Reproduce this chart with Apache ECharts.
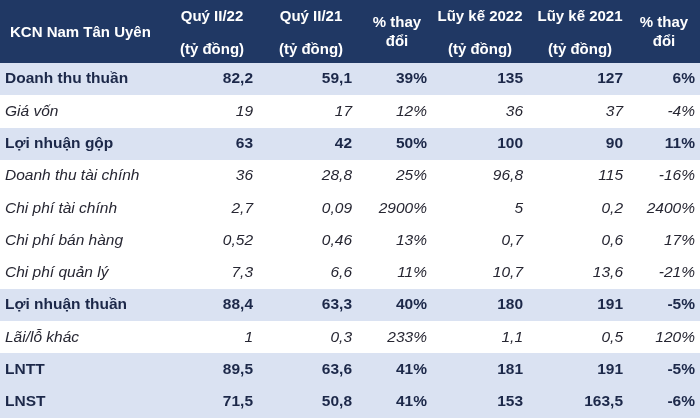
<!DOCTYPE html>
<html>
<head>
<meta charset="utf-8">
<script src="https://cdn.jsdelivr.net/npm/echarts@6/dist/echarts.min.js"></script>
<style>
  html, body { margin: 0; padding: 0; background: #fff; }
  #table { width: 700px; height: 418px; }
</style>
</head>
<body>
<div id="table"></div>
<script>
var container = document.getElementById('table');
var chart = echarts.init(container);

// table data
var rowLabels = ['Doanh thu thuần', 'Giá vốn', 'Lợi nhuận gộp', 'Doanh thu tài chính', 'Chi phí tài chính',
  'Chi phí bán hàng', 'Chi phí quản lý', 'Lợi nhuận thuần', 'Lãi/lỗ khác', 'LNTT', 'LNST'];
var boldRows = [true, false, true, false, false, false, false, true, false, true, true];
var q2_22 = [82.2, 19, 63, 36, 2.7, 0.52, 7.3, 88.4, 1, 89.5, 71.5];
var q2_21 = [59.1, 17, 42, 28.8, 0.09, 0.46, 6.6, 63.3, 0.3, 63.6, 50.8];
var qChange = [39, 12, 50, 25, 2900, 13, 11, 40, 233, 41, 41];
var ytd2022 = [135, 36, 100, 96.8, 5, 0.7, 10.7, 180, 1.1, 181, 153];
var ytd2021 = [127, 37, 90, 115, 0.2, 0.6, 13.6, 191, 0.5, 191, 163.5];
var ytdChange = [6, -4, 11, -16, 2400, 17, -21, -5, 120, -5, -6];

var headerTitle = 'KCN Nam Tân Uyên';
var headerTop = ['Quý II/22', 'Quý II/21', '% thay', 'Lũy kế 2022', 'Lũy kế 2021', '% thay'];
var headerBottom = ['(tỷ đồng)', '(tỷ đồng)', 'đổi', '(tỷ đồng)', '(tỷ đồng)', 'đổi'];

// layout (pixels on a 0..700 x scale)
var colRight = [253, 352, 427, 523, 623, 695];
var headCenter = [212, 311, 397, 480, 580, 664];
var headTwoLine = [true, true, false, true, true, false];

var navy = '#203864';
var rowBlue = '#dae2f2';
var boldColor = '#1c2849';
var plainColor = '#262632';
var font = 'Arial, "Liberation Sans", sans-serif';

var columns = [q2_22, q2_21, qChange, ytd2022, ytd2021, ytdChange];
var isPct = [false, false, true, false, false, true];

function fmt(v, pct) {
  var s = String(v).replace('.', ',');
  return pct ? s + '%' : s;
}

chart.setOption({
  animation: false,
  grid: [
    { left: 0, right: 0, top: 0, height: 63 },
    { left: 0, right: 0, top: 63, bottom: 0 }
  ],
  xAxis: [
    { gridIndex: 0, type: 'value', min: 0, max: 700, show: false },
    { gridIndex: 1, type: 'value', min: 0, max: 700, show: false }
  ],
  yAxis: [
    { gridIndex: 0, type: 'category', data: ['header'], show: false },
    { gridIndex: 1, type: 'category', data: rowLabels, inverse: true, show: false }
  ],
  series: [
    {
      type: 'custom',
      xAxisIndex: 0,
      yAxisIndex: 0,
      data: [[0, 0]],
      renderItem: function (params, api) {
        var c = api.coord([0, 0]);
        var h = api.size([0, 1])[1];
        var top = c[1] - h / 2;
        var kids = [{
          type: 'rect',
          shape: { x: 0, y: top, width: 700, height: h + 1 },
          style: { fill: navy }
        }, {
          type: 'text',
          style: {
            x: 10, y: top + 33, text: headerTitle, fill: '#fff',
            font: 'bold 15px ' + font, textAlign: 'left', textVerticalAlign: 'middle'
          }
        }];
        headerTop.forEach(function (t, i) {
          var two = headTwoLine[i];
          kids.push({
            type: 'text',
            style: {
              x: headCenter[i], y: top + (two ? 17 : 23), text: t, fill: '#fff',
              font: 'bold 15px ' + font, textAlign: 'center', textVerticalAlign: 'middle'
            }
          });
          kids.push({
            type: 'text',
            style: {
              x: headCenter[i], y: top + (two ? 50 : 42), text: headerBottom[i], fill: '#fff',
              font: 'bold 15px ' + font, textAlign: 'center', textVerticalAlign: 'middle'
            }
          });
        });
        return { type: 'group', children: kids };
      }
    },
    {
      type: 'custom',
      xAxisIndex: 1,
      yAxisIndex: 1,
      data: rowLabels.map(function (r, i) { return [0, i]; }),
      renderItem: function (params, api) {
        var i = params.dataIndex;
        var c = api.coord([0, api.value(1)]);
        var h = api.size([0, 1])[1];
        var bold = boldRows[i];
        var f = (bold ? 'bold ' : 'italic ') + '15.5px ' + font;
        var color = bold ? boldColor : plainColor;
        var kids = [{
          type: 'rect',
          shape: { x: 0, y: Math.round(c[1] - h / 2), width: 700, height: Math.ceil(h) },
          style: { fill: bold ? rowBlue : '#fff' }
        }, {
          type: 'text',
          style: {
            x: 5, y: c[1], text: rowLabels[i], fill: color, font: f,
            textAlign: 'left', textVerticalAlign: 'middle'
          }
        }];
        columns.forEach(function (col, j) {
          kids.push({
            type: 'text',
            style: {
              x: colRight[j], y: c[1], text: fmt(col[i], isPct[j]), fill: color, font: f,
              textAlign: 'right', textVerticalAlign: 'middle'
            }
          });
        });
        return { type: 'group', children: kids };
      }
    }
  ]
});
</script>
</body>
</html>
